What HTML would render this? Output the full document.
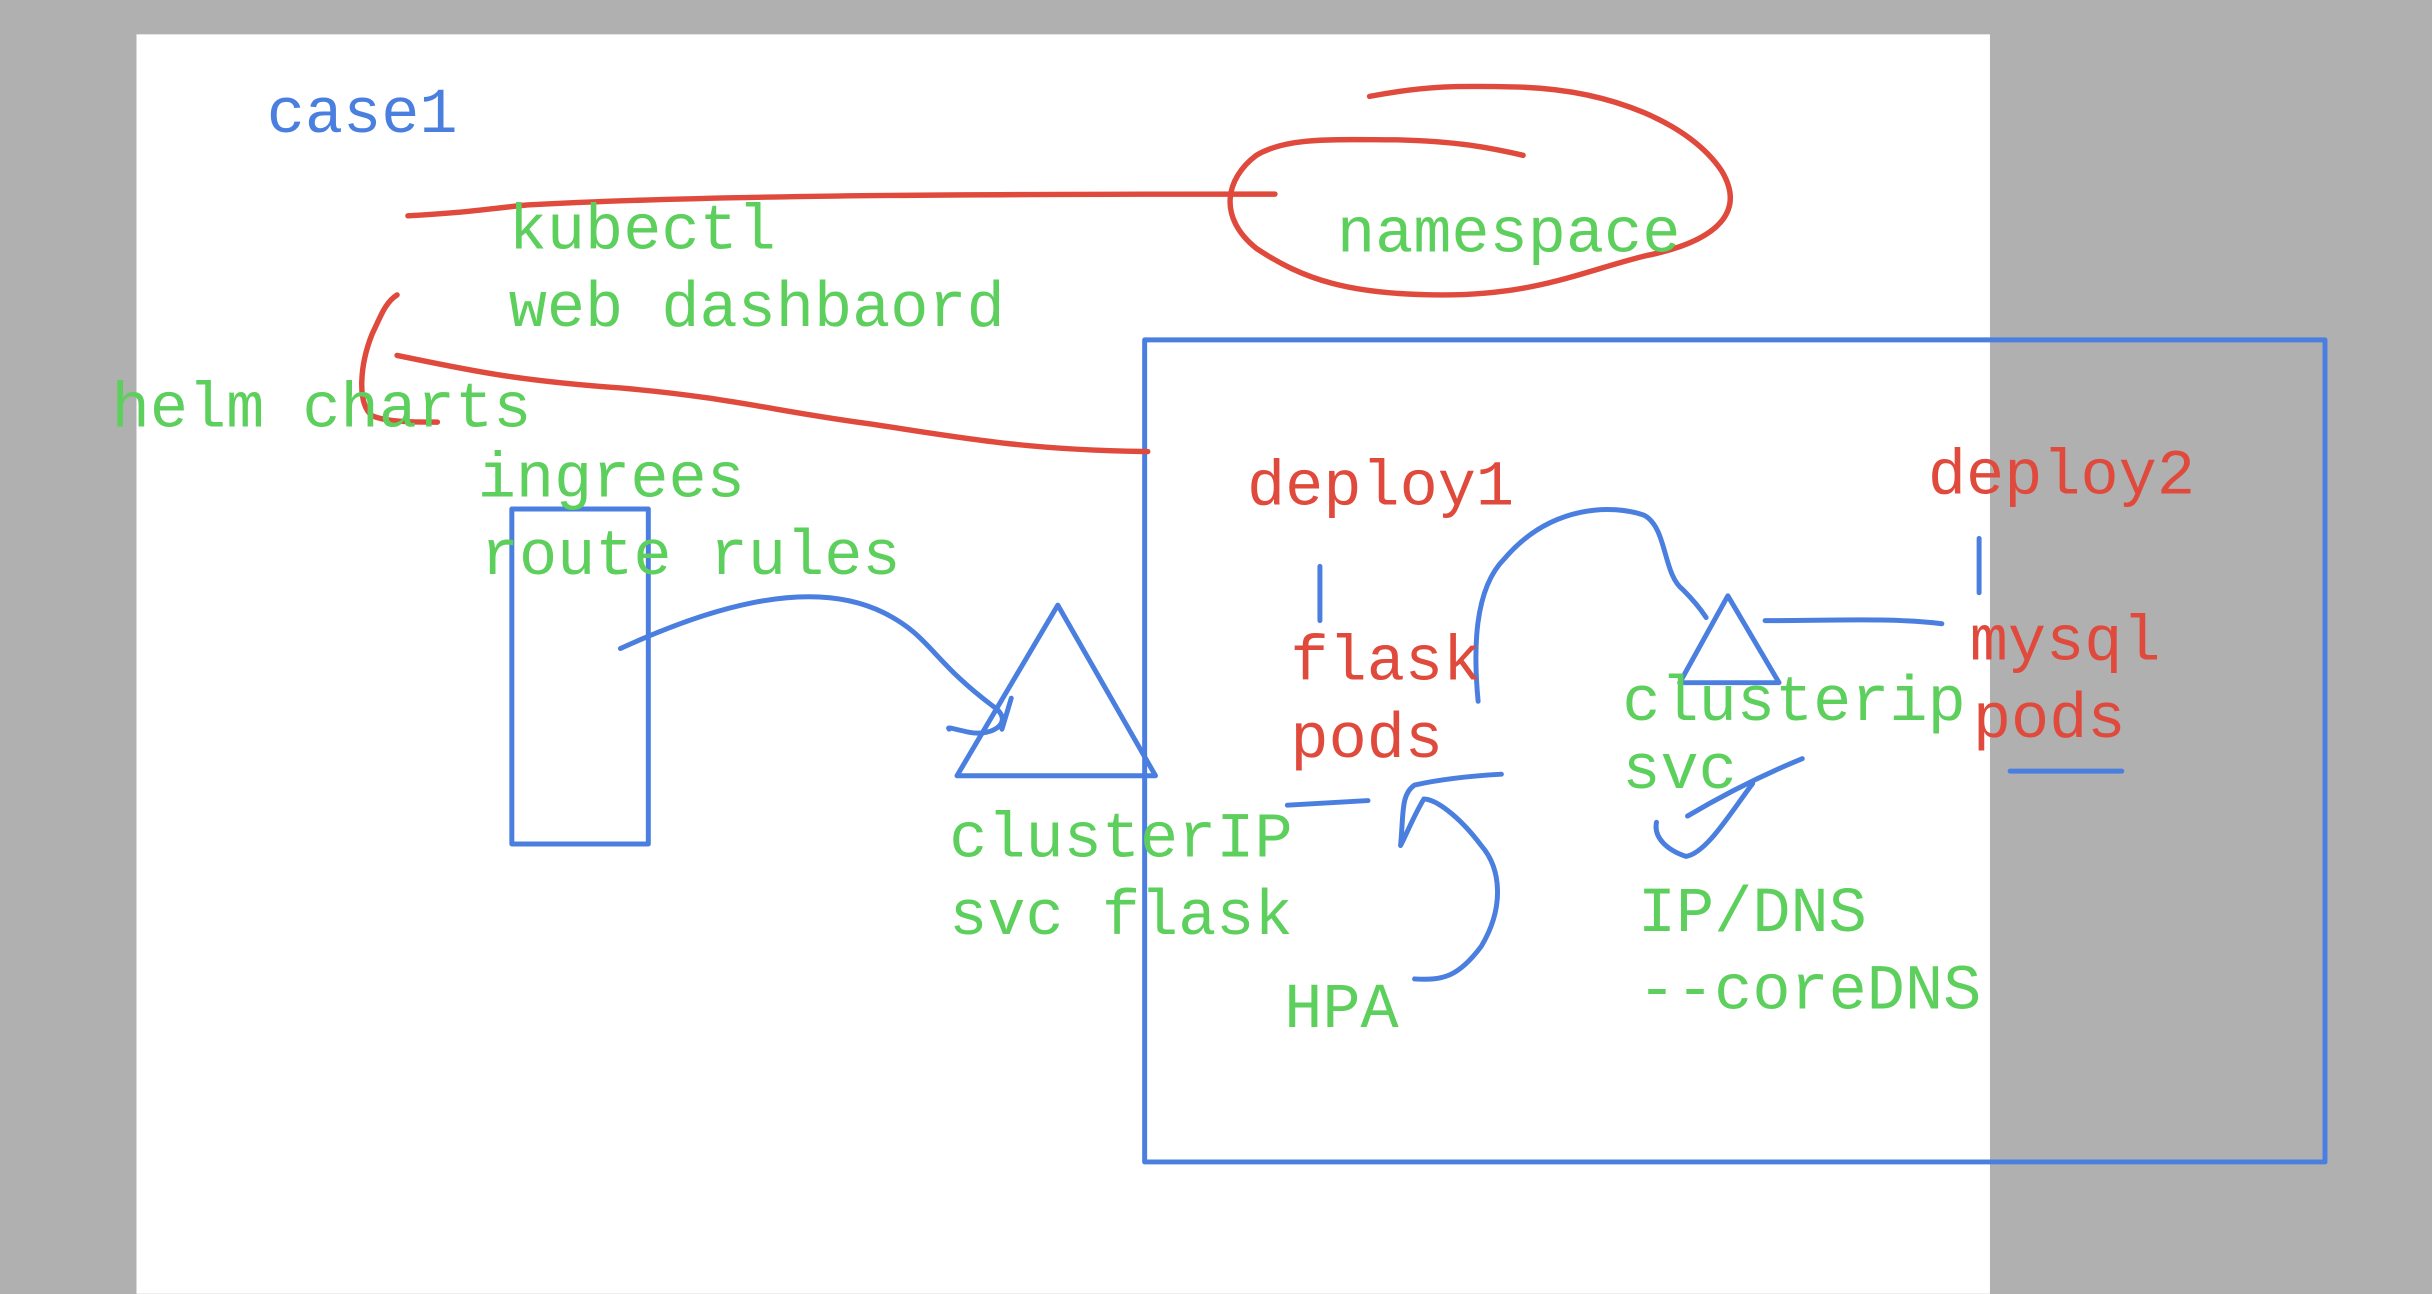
<!DOCTYPE html>
<html><head><meta charset="utf-8"><style>
html,body{margin:0;padding:0;background:#b0b0b0;width:2432px;height:1294px;overflow:hidden}
svg{display:block}
text{font-family:"Liberation Mono",monospace;font-size:41px}
.g{fill:#5dcf5d}.r{fill:#e04a3c}.b{fill:#4a7fe0}
</style></head><body>
<svg width="2432" height="1294" viewBox="0 0 1568 834" xmlns="http://www.w3.org/2000/svg">
<rect x="0" y="0" width="1568" height="834" fill="#b0b0b0"/>
<rect x="88" y="22" width="1195" height="812" fill="#fff"/>
<g fill="none" stroke="#4a7fe0" stroke-width="3.2" stroke-linecap="round" stroke-linejoin="round">
<rect x="738" y="219" width="761" height="530"/>
<rect x="330" y="328" width="88" height="216"/>
<polygon points="682,390 617,500 745,500"/>
<polygon points="1114,384 1083,440 1147,440"/>
<path d="M400,418 C450,395 520,370 570,395 C600,410 600,425 640,455 C655,465 640,475 625,472 C615,470 610,468 612,470 M652,450 L646,470"/>
<path d="M953,452 C950,420 950,380 970,360 C1000,325 1040,325 1060,332 C1075,340 1072,370 1085,380 C1095,390 1098,395 1100,398"/>
<path d="M1138,400 C1180,400 1220,398 1252,402"/>
<path d="M851,365 L851,400 M1276,347 L1276,382"/>
<path d="M1296,497 L1368,497"/>
<path d="M830,519 L882,516"/>
<path d="M912,631 C930,632 940,630 955,610 C970,585 968,560 955,545 C940,525 925,515 918,515 C912,525 908,535 903,545 C905,525 903,512 912,506 C930,502 950,500 968,499"/>
<path d="M1068,530 C1066,540 1075,548 1087,552 C1100,550 1115,525 1130,505 M1088,526 C1115,510 1140,498 1162,489"/>
</g>
<g fill="none" stroke="#e04a3c" stroke-width="3.5" stroke-linecap="round" stroke-linejoin="round">
<path d="M263,139 C300,137 310,135 340,132 C450,126 600,125 822,125"/>
<path d="M883,62 C920,55 940,55 980,56 C1040,58 1090,80 1110,110 C1125,135 1110,155 1060,165 C1020,175 990,190 930,190 C870,190 840,180 810,160 C785,140 790,115 810,100 C830,88 860,90 900,90 C940,91 960,95 982,100"/>
<path d="M256,190 C248,195 245,205 240,215 C232,235 230,260 240,268 C250,272 265,272 282,272"/>
<path d="M256,229 C300,238 330,245 400,250 C470,256 500,265 560,273 C620,282 660,290 740,291"/>
</g>
<text x="172" y="85" class="b">case1</text>
<text x="328" y="160" class="g">kubectl</text>
<text x="328" y="210" class="g">web dashbaord</text>
<text x="862" y="162" class="g">namespace</text>
<text x="72" y="275" class="g">helm charts</text>
<text x="308" y="320" class="g">ingrees</text>
<text x="310" y="370" class="g">route rules</text>
<text x="804" y="325" class="r">deploy1</text>
<text x="1243" y="318" class="r">deploy2</text>
<text x="832" y="438" class="r">flask</text>
<text x="832" y="488" class="r">pods</text>
<text x="1046" y="464" class="g">clusterip</text>
<text x="1046" y="508" class="g">svc</text>
<text x="1270" y="425" class="r">mysql</text>
<text x="1272" y="475" class="r">pods</text>
<text x="612" y="552" class="g">clusterIP</text>
<text x="612" y="602" class="g">svc flask</text>
<text x="828" y="662" class="g">HPA</text>
<text x="1056" y="600" class="g">IP/DNS</text>
<text x="1056" y="650" class="g">--coreDNS</text>
</svg>
</body></html>
